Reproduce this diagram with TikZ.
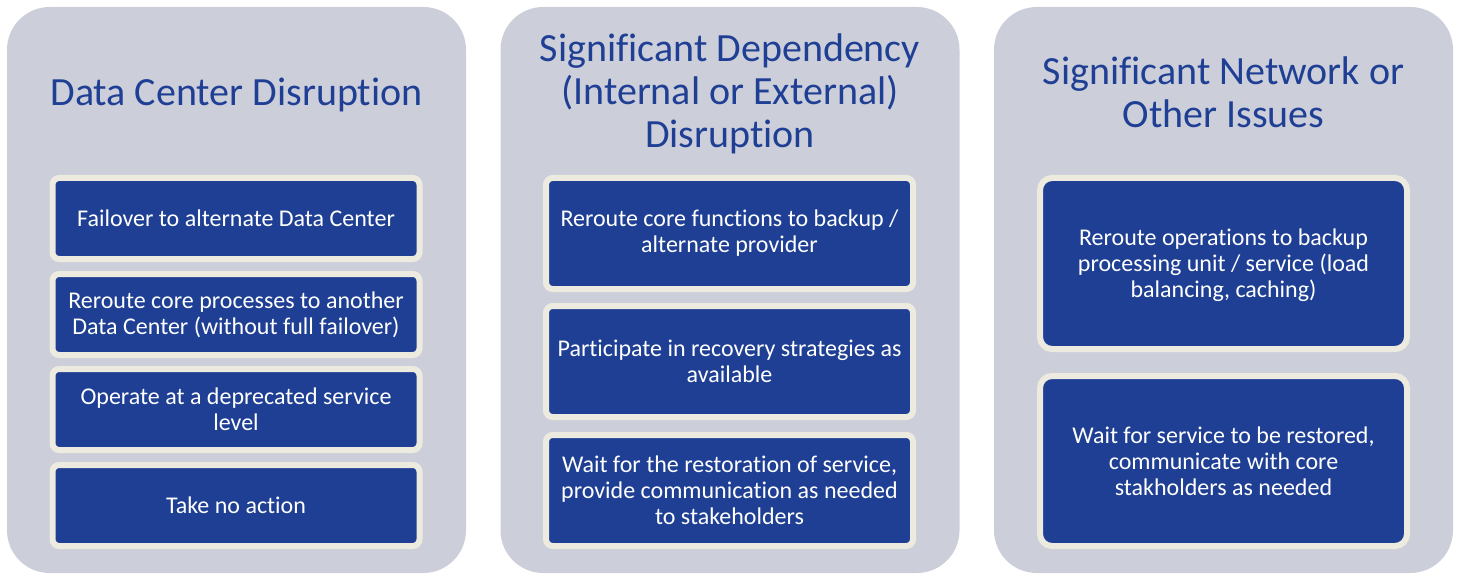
\documentclass[tikz,border=0pt]{standalone}
\usepackage{fontspec}
\setmainfont[Ligatures=NoCommon]{Carlito}
\definecolor{panelgrey}{HTML}{CCCFD9}
\definecolor{boxblue}{HTML}{1E3F93}
\definecolor{cream}{HTML}{EDEBE0}
\definecolor{titleblue}{HTML}{1F3F95}
\begin{document}
\begin{tikzpicture}[x=0.75pt,y=-0.75pt,
  panel/.style={fill=panelgrey, draw=none, rounded corners=32pt, inner sep=0pt,
    minimum width=344.25pt, minimum height=424.5pt},
  option/.style={draw=cream, line width=4.5pt, fill=boxblue, rounded corners=5pt,
    text=white, align=center, inner sep=0pt, minimum width=275.25pt,
    font=\fontsize{18}{19.5}\selectfont},
  bigoption/.style={option, rounded corners=9pt},
  title/.style={text=titleblue, align=center, inner sep=0pt,
    font=\fontsize{30}{32.4}\selectfont}]
\useasboundingbox (0,0) rectangle (1460,574);
% panels
\node[panel] (p1) at (236.5,290) {};
\node[panel] (p2) at (730,290) {};
\node[panel] (p3) at (1223.5,290) {};
% titles
\node[title] (t1) at (236.5,95) {Data Center Disruption};
\node[title] (t2) at (730,94) {Significant Dependency\\(Internal or External)\\Disruption};
\node[title] (t3) at (1223.5,92) {Significant Network or\\Other Issues};
% panel 1 options
\node[option, minimum height=60.75pt] (a1) at (236,218.5) {Failover to alternate Data Center};
\node[option, minimum height=60.75pt] (a2) at (236,314.5) {Reroute core processes to another\\Data Center (without full failover)};
\node[option, minimum height=60.75pt] (a3) at (236,409.5) {Operate at a deprecated service\\level};
\node[option, minimum height=60.75pt] (a4) at (236,505.5) {Take no action};
% panel 2 options
\node[option, minimum height=83.25pt] (b1) at (729.5,233.5) {Reroute core functions to backup /\\alternate provider};
\node[option, minimum height=83.25pt] (b2) at (729.5,361.5) {Participate in recovery strategies as\\available};
\node[option, minimum height=83.25pt] (b3) at (729.5,490.5) {Wait for the restoration of service,\\provide communication as needed\\to stakeholders};
% panel 3 options
\node[bigoption, minimum height=128.25pt, text depth=-1.5pt] (c1) at (1223.5,263.5) {Reroute operations to backup\\processing unit / service (load\\balancing, caching)};
\node[bigoption, minimum height=127.5pt] (c2) at (1223.5,461) {Wait for service to be restored,\\communicate with core\\stakholders as needed};
\end{tikzpicture}
\end{document}
